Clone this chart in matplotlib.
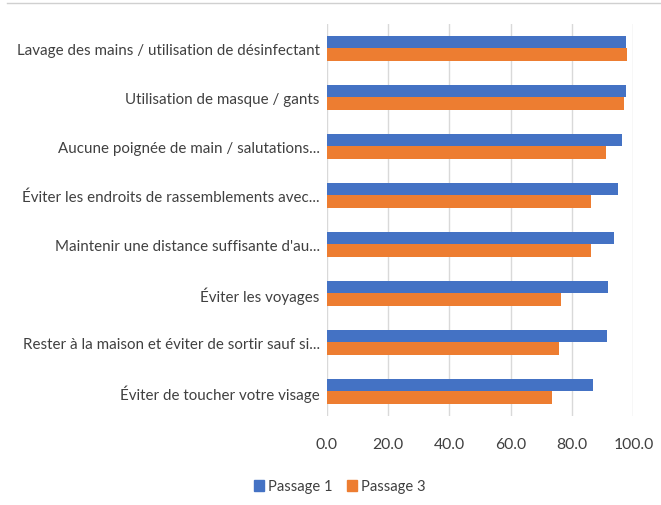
import numpy as np
import matplotlib.pyplot as plt
from matplotlib.lines import Line2D
from matplotlib.patches import Patch

categories = [
    "Lavage des mains / utilisation de désinfectant",
    "Utilisation de masque / gants",
    "Aucune poignée de main / salutations...",
    "Éviter les endroits de rassemblements avec...",
    "Maintenir une distance suffisante d'au...",
    "Éviter les voyages",
    "Rester à la maison et éviter de sortir sauf si...",
    "Éviter de toucher votre visage",
]
passage1 = [97.6, 97.6, 96.2, 95.0, 93.8, 91.9, 91.5, 86.7]
passage3 = [97.9, 97.0, 91.0, 86.3, 86.3, 76.4, 75.6, 73.6]
xticks = [0, 20, 40, 60, 80, 100]

plt.rcParams['font.family'] = ['Lato', 'DejaVu Sans']
text_color = "#404040"
fs = 10.9

fig = plt.figure(figsize=(6.61, 5.06), dpi=100)
ax = fig.add_axes([0.4943, 0.1759, 0.4638, 0.7747])

y = np.arange(len(categories))
h = 0.25
ax.barh(y - h / 2, passage1, height=h, color="#4472C4", label="Passage 1", zorder=3)
ax.barh(y + h / 2, passage3, height=h, color="#ED7D31", label="Passage 3", zorder=3)

ax.set_ylim(len(categories) - 0.5, -0.5)
ax.set_xlim(0, 100)
ax.set_yticks(y)
ax.set_yticklabels(categories, fontsize=fs, color=text_color)
ax.set_xticks(xticks)
ax.set_xticklabels([f"{v:.1f}" for v in xticks], fontsize=11.3, color=text_color)
ax.tick_params(axis="y", length=0, pad=5)
ax.tick_params(axis="x", length=0, pad=15)
ax.grid(axis="x", color="#d9d9d9", linewidth=1, zorder=0)
for s in ax.spines.values():
    s.set_visible(False)

# thin rule along the top of the image
fig.add_artist(Line2D([0.01, 1.0], [0.9915, 0.9915], color="#d0d0d0", linewidth=1))

handles = [Patch(color="#4472C4"), Patch(color="#ED7D31")]
leg = fig.legend(handles, ["Passage 1", "Passage 3"], loc="center",
                 bbox_to_anchor=(0.514, 0.037), ncol=2, frameon=False,
                 fontsize=10.6, handlelength=0.7, handleheight=0.8,
                 handletextpad=0.25, columnspacing=1.0)
for t in leg.get_texts():
    t.set_color(text_color)

fig.savefig("out.png", dpi=100)
